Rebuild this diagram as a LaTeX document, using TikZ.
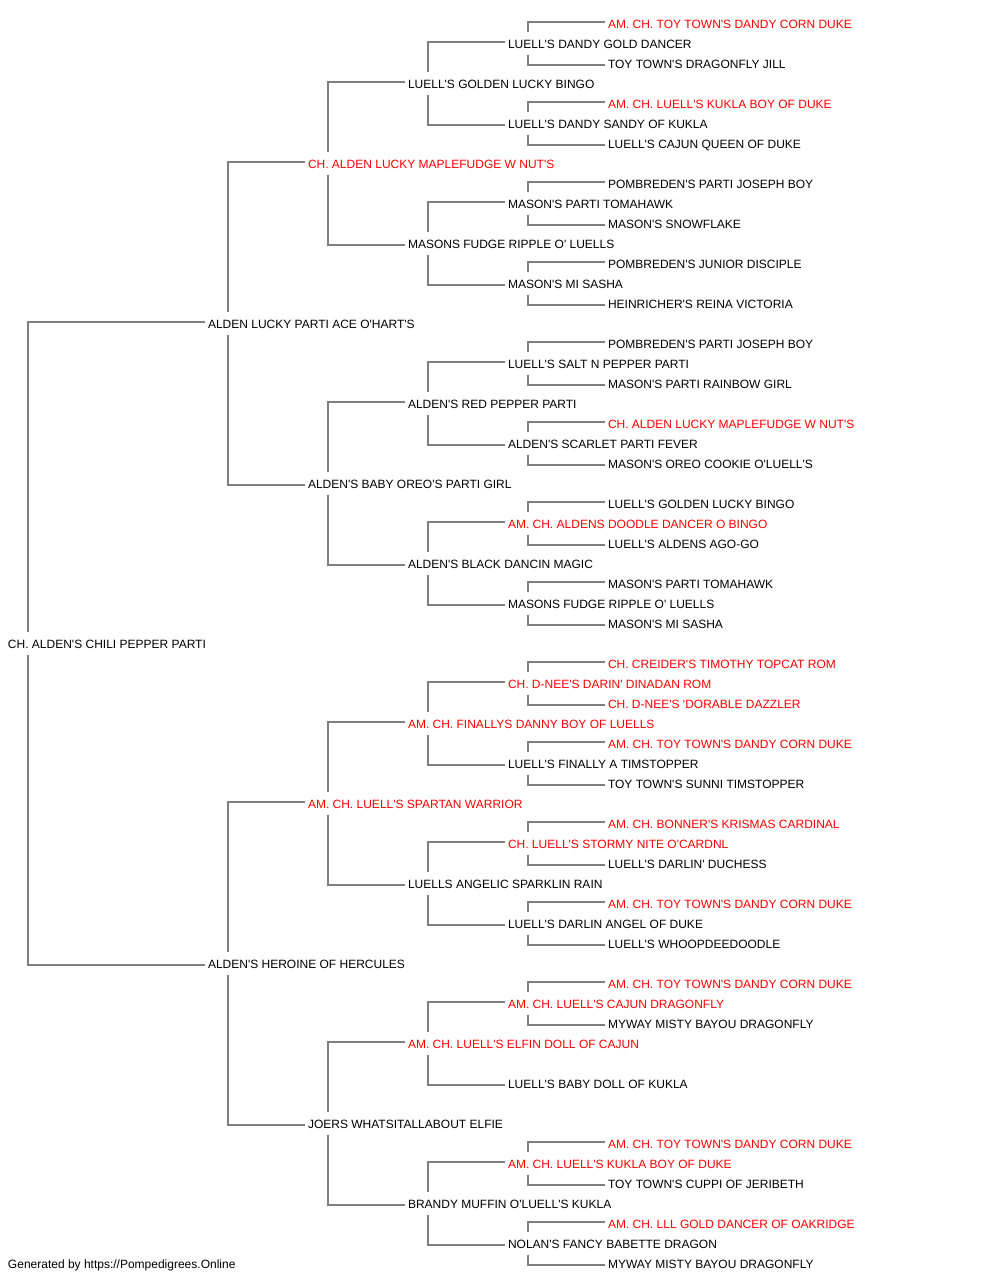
\documentclass[tikz,border=0pt]{standalone}
\usepackage{fontspec}
\setmainfont{Liberation Sans}[Ligatures=TeXOff]
\definecolor{pedred}{HTML}{FF0000}
\definecolor{pedline}{HTML}{808080}
\newcommand\pnode[5]{\node[pn,#5] (r#1) at (#2,{24.3+20*#1}) {#3#4};}
\newcommand\sirelink[2]{\draw[ln] ([shift={(20,-12.6)}]r#1.west) |- ([shift={(-3,-2.6)}]r#2.west);}
\newcommand\damlink[2]{\draw[ln] ([shift={(20,10.4)}]r#1.west) |- ([shift={(-3,0.4)}]r#2.west);}
\begin{document}
\begin{tikzpicture}[x=1pt,y=-1pt,
  pn/.style={anchor=west,inner sep=0pt,outer sep=0pt,text height=8.6pt,text depth=0pt,font=\fontsize{12}{14}\selectfont},
  rd/.style={text=pedred},
  bk/.style={text=black},
  ln/.style={draw=pedline,line width=2pt}]
\useasboundingbox[fill=white] (0,0) rectangle (1000,1280);
% generation 0
\pnode{31}{8}{}{CH. ALDEN'S CHILI PEPPER PARTI}{bk}
% generation 1
\pnode{15}{208}{}{ALDEN LUCKY PARTI ACE O'HART'S}{bk}
\pnode{47}{208}{}{ALDEN'S HEROINE OF HERCULES}{bk}
% generation 2
\pnode{7}{308}{}{CH. ALDEN LUCKY MAPLEFUDGE W NUT'S}{rd}
\pnode{23}{308}{}{ALDEN'S BABY OREO'S PARTI GIRL}{bk}
\pnode{39}{308}{}{AM. CH. LUELL'S SPARTAN WARRIOR}{rd}
\pnode{55}{308}{}{JOERS WHATSITALLABOUT ELFIE}{bk}
% generation 3
\pnode{3}{408}{}{LUELL'S GOLDEN LUCKY BINGO}{bk}
\pnode{11}{408}{}{MASONS FUDGE RIPPLE O' LUELLS}{bk}
\pnode{19}{408}{}{ALDEN'S RED PEPPER PARTI}{bk}
\pnode{27}{408}{}{ALDEN'S BLACK DANCIN MAGIC}{bk}
\pnode{35}{408}{}{AM. CH. FINALLYS DANNY BOY OF LUELLS}{rd}
\pnode{43}{408}{}{LUELLS ANGELIC SPARKLIN RAIN}{bk}
\pnode{51}{408}{}{AM. CH. LUELL'S ELFIN DOLL OF CAJUN}{rd}
\pnode{59}{408}{}{BRANDY MUFFIN O'LUELL'S KUKLA}{bk}
% generation 4
\pnode{1}{508}{}{LUELL'S DANDY GOLD DANCER}{bk}
\pnode{5}{508}{}{LUELL'S DANDY SANDY OF KUKLA}{bk}
\pnode{9}{508}{}{MASON'S PARTI TOMAHAWK}{bk}
\pnode{13}{508}{}{MASON'S MI SASHA}{bk}
\pnode{17}{508}{}{LUELL'S SALT N PEPPER PARTI}{bk}
\pnode{21}{508}{}{ALDEN'S SCARLET PARTI FEVER}{bk}
\pnode{25}{508}{}{AM. CH. ALDENS DOODLE DANCER O BINGO}{rd}
\pnode{29}{508}{}{MASONS FUDGE RIPPLE O' LUELLS}{bk}
\pnode{33}{508}{}{CH. D-NEE'S DARIN' DINADAN ROM}{rd}
\pnode{37}{508}{}{LUELL'S FINALLY A TIMSTOPPER}{bk}
\pnode{41}{508}{}{CH. LUELL'S STORMY NITE O'CARDNL}{rd}
\pnode{45}{508}{}{LUELL'S DARLIN ANGEL OF DUKE}{bk}
\pnode{49}{508}{}{AM. CH. LUELL'S CAJUN DRAGONFLY}{rd}
\pnode{53}{508}{}{LUELL'S BABY DOLL OF KUKLA}{bk}
\pnode{57}{508}{}{AM. CH. LUELL'S KUKLA BOY OF DUKE}{rd}
\pnode{61}{508}{}{NOLAN'S FANCY BABETTE DRAGON}{bk}
% generation 5
\pnode{0}{608}{}{AM. CH. TOY TOWN'S DANDY CORN DUKE}{rd}
\pnode{2}{608}{}{TOY TOWN'S DRAGONFLY JILL}{bk}
\pnode{4}{608}{}{AM. CH. LUELL'S KUKLA BOY OF DUKE}{rd}
\pnode{6}{608}{}{LUELL'S CAJUN QUEEN OF DUKE}{bk}
\pnode{8}{608}{}{POMBREDEN'S PARTI JOSEPH BOY}{bk}
\pnode{10}{608}{}{MASON'S SNOWFLAKE}{bk}
\pnode{12}{608}{}{POMBREDEN'S JUNIOR DISCIPLE}{bk}
\pnode{14}{608}{}{HEINRICHER'S REINA VICTORIA}{bk}
\pnode{16}{608}{}{POMBREDEN'S PARTI JOSEPH BOY}{bk}
\pnode{18}{608}{}{MASON'S PARTI RAINBOW GIRL}{bk}
\pnode{20}{608}{}{CH. ALDEN LUCKY MAPLEFUDGE W NUT'S}{rd}
\pnode{22}{608}{}{MASON'S OREO COOKIE O'LUELL'S}{bk}
\pnode{24}{608}{}{LUELL'S GOLDEN LUCKY BINGO}{bk}
\pnode{26}{608}{}{LUELL'S ALDENS AGO-GO}{bk}
\pnode{28}{608}{}{MASON'S PARTI TOMAHAWK}{bk}
\pnode{30}{608}{}{MASON'S MI SASHA}{bk}
\pnode{32}{608}{}{CH. CREIDER'S TIMOTHY TOPCAT ROM}{rd}
\pnode{34}{608}{}{CH. D-NEE'S 'DORABLE DAZZLER}{rd}
\pnode{36}{608}{}{AM. CH. TOY TOWN'S DANDY CORN DUKE}{rd}
\pnode{38}{608}{}{TOY TOWN'S SUNNI TIMSTOPPER}{bk}
\pnode{40}{608}{}{AM. CH. BONNER'S KRISMAS CARDINAL}{rd}
\pnode{42}{608}{}{LUELL'S DARLIN' DUCHESS}{bk}
\pnode{44}{608}{}{AM. CH. TOY TOWN'S DANDY CORN DUKE}{rd}
\pnode{46}{608}{}{LUELL'S WHOOPDEEDOODLE}{bk}
\pnode{48}{608}{}{AM. CH. TOY TOWN'S DANDY CORN DUKE}{rd}
\pnode{50}{608}{}{MYWAY MISTY BAYOU DRAGONFLY}{bk}
\pnode{56}{608}{}{AM. CH. TOY TOWN'S DANDY CORN DUKE}{rd}
\pnode{58}{608}{}{TOY TOWN'S CUPPI OF JERIBETH}{bk}
\pnode{60}{608}{}{AM. CH. LLL GOLD DANCER OF OAKRIDGE}{rd}
\pnode{62}{608}{}{MYWAY MISTY BAYOU DRAGONFLY}{bk}
% footer
\node[pn,text=black] (footer) at (8,1264.3) {Generated by https://Pompedigrees.Online};
% connectors
\sirelink{31}{15}\damlink{31}{47}
\sirelink{15}{7}\damlink{15}{23}
\sirelink{47}{39}\damlink{47}{55}
\foreach \p/\s/\d in {7/3/11,23/19/27,39/35/43,55/51/59}{\sirelink{\p}{\s}\damlink{\p}{\d}}
\foreach \p/\s/\d in {3/1/5,11/9/13,19/17/21,27/25/29,35/33/37,43/41/45,51/49/53,59/57/61}{\sirelink{\p}{\s}\damlink{\p}{\d}}
\foreach \p in {1,5,9,13,17,21,25,29,33,37,41,45,49,57,61}{
  \pgfmathtruncatemacro\s{\p-1}\pgfmathtruncatemacro\d{\p+1}
  \sirelink{\p}{\s}\damlink{\p}{\d}}
\end{tikzpicture}
\end{document}
